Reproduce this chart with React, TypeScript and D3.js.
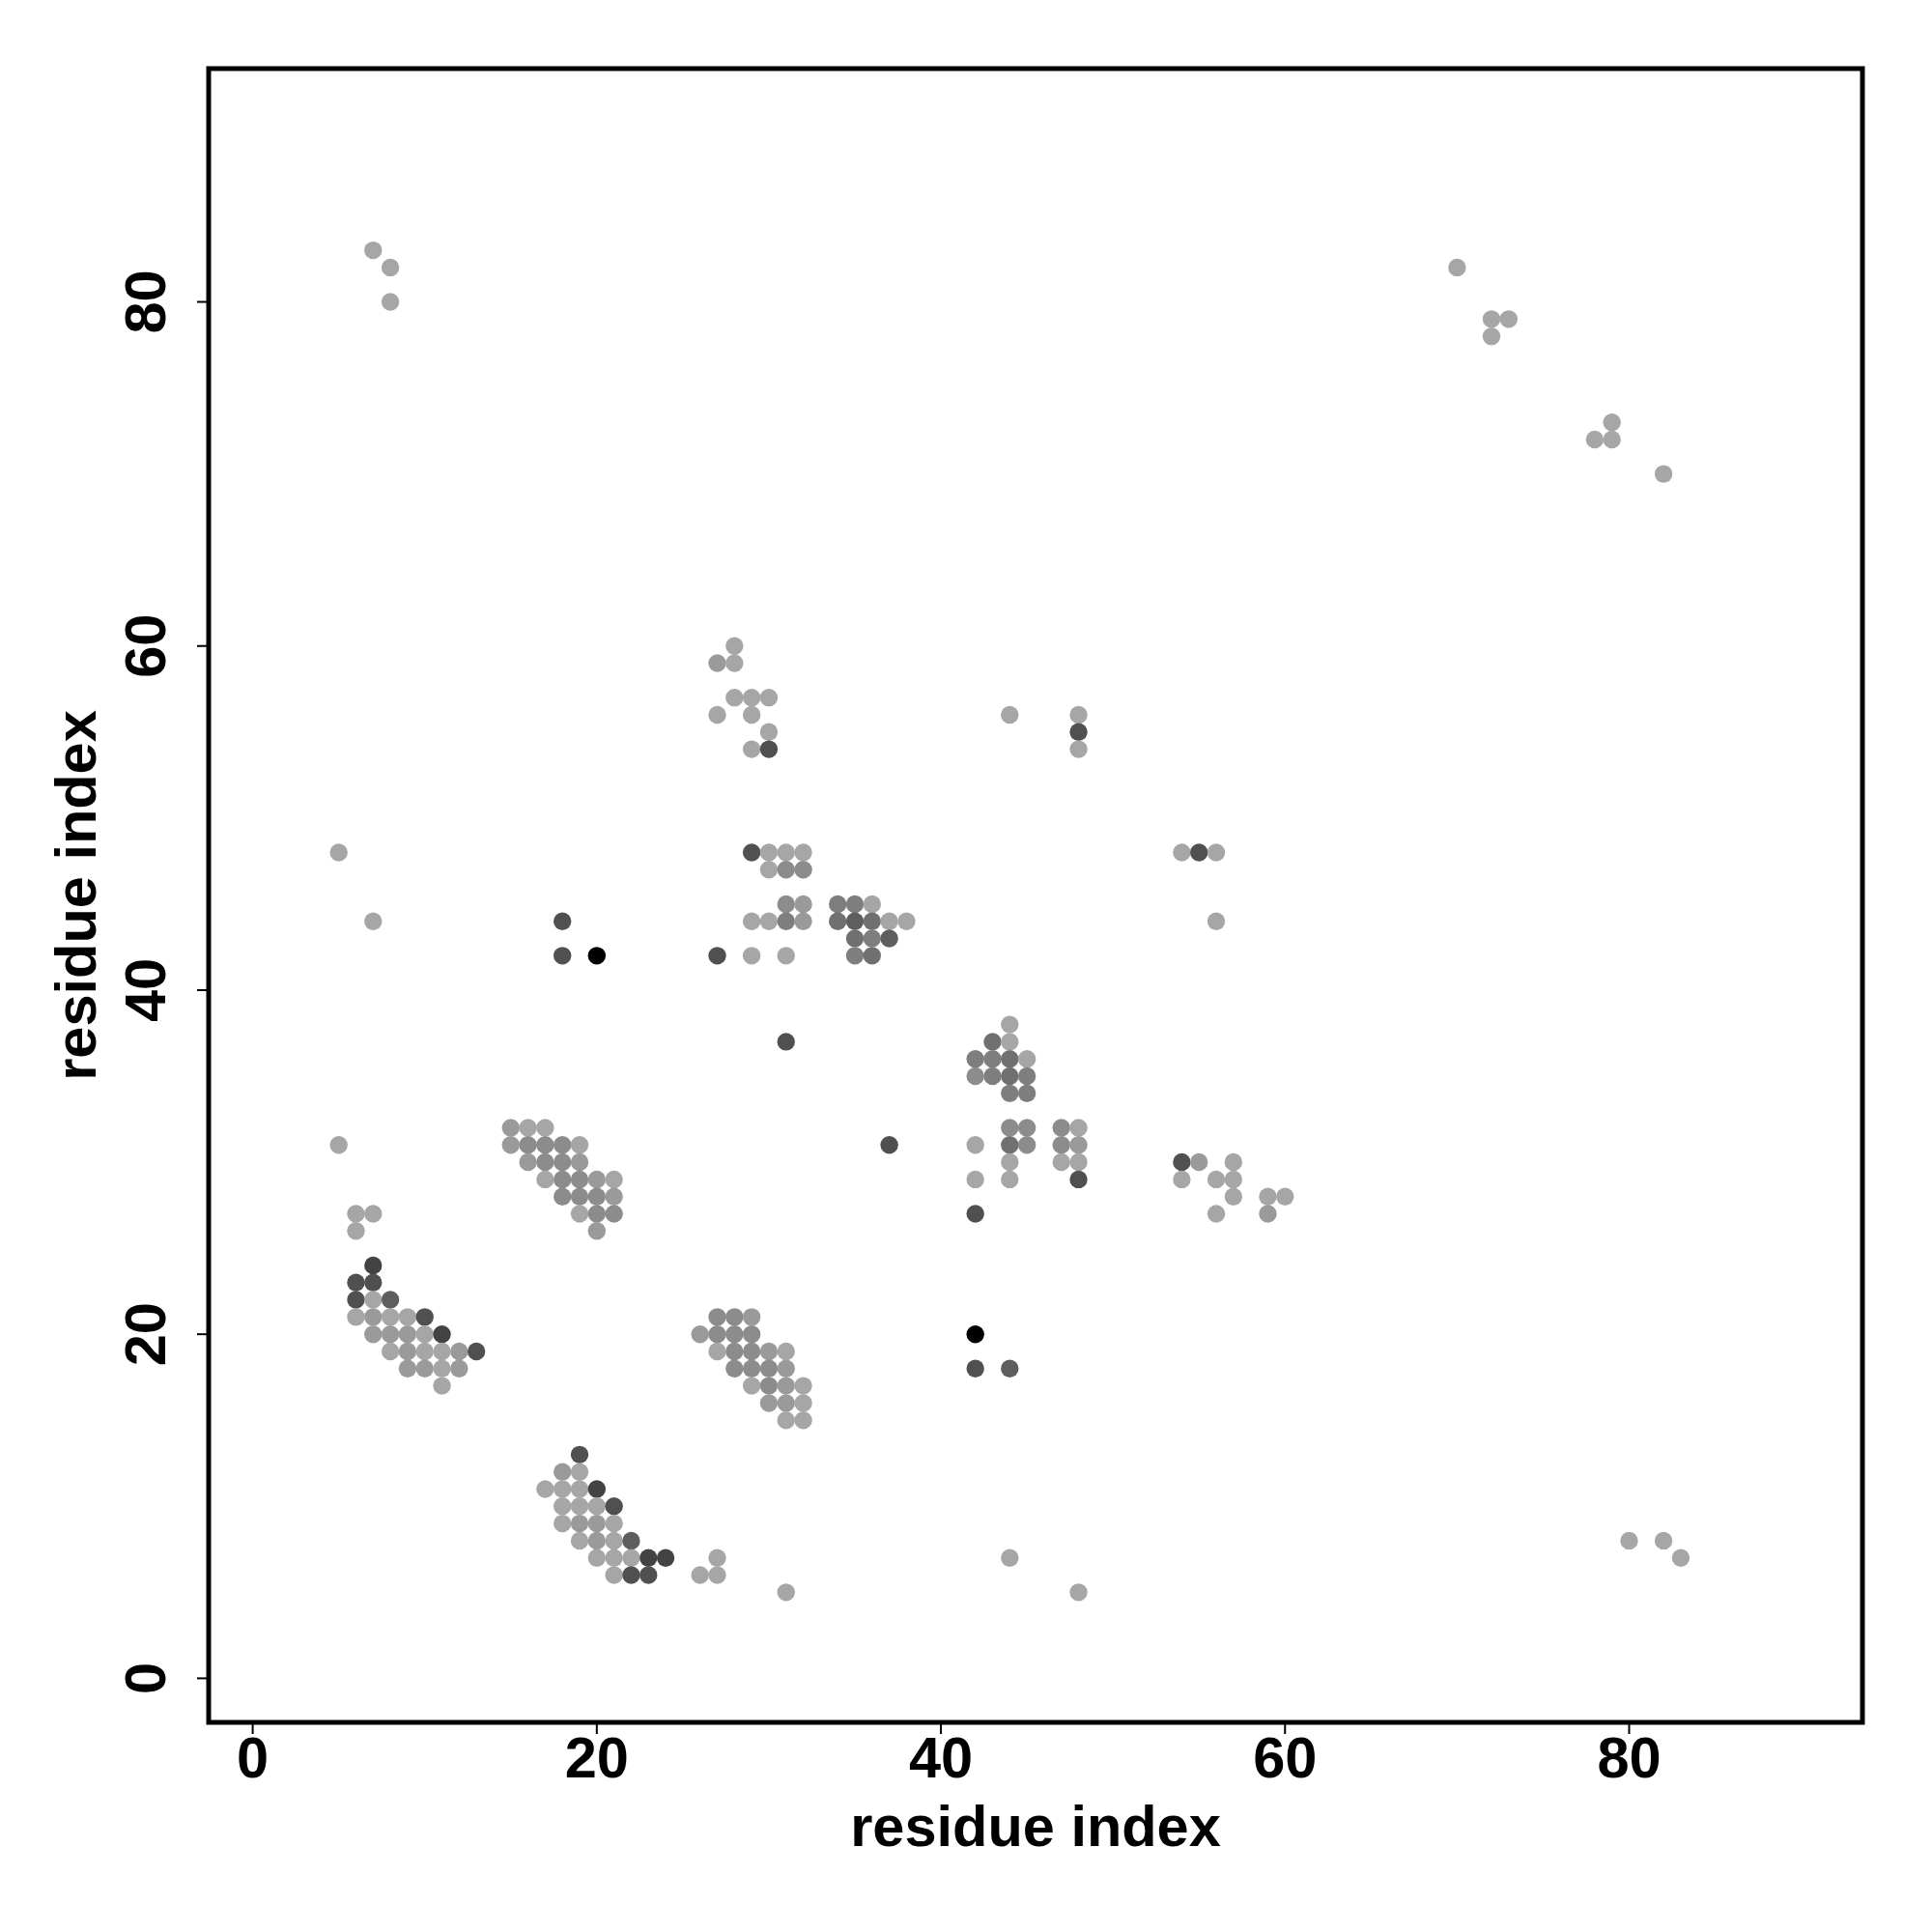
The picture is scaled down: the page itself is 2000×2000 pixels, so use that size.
import React from "react";
import * as d3 from "d3";

// [residue i, residue j, strength level 0..8]
const clusterA: number[][] = [
  [6, 27, 0], [7, 27, 0], [6, 26, 0],
  [7, 24, 7],
  [6, 23, 6], [7, 23, 6],
  [6, 22, 6], [7, 22, 0], [8, 22, 5],
  [6, 21, 0], [7, 21, 1], [8, 21, 0], [9, 21, 0], [10, 21, 6],
  [7, 20, 1], [8, 20, 1], [9, 20, 1], [10, 20, 0], [11, 20, 7],
  [8, 19, 0], [9, 19, 1], [10, 19, 0], [11, 19, 0], [12, 19, 1], [13, 19, 6],
  [9, 18, 1], [10, 18, 1], [11, 18, 0], [12, 18, 1],
  [11, 17, 0],
];

const clusterB: number[][] = [
  [19, 13, 6],
  [18, 12, 1], [19, 12, 0],
  [17, 11, 0], [18, 11, 0], [19, 11, 0], [20, 11, 7],
  [18, 10, 0], [19, 10, 0], [20, 10, 0], [21, 10, 6],
  [18, 9, 0], [19, 9, 1], [20, 9, 1], [21, 9, 0],
  [19, 8, 0], [20, 8, 1], [21, 8, 0], [22, 8, 5],
  [20, 7, 0], [21, 7, 0], [22, 7, 0], [23, 7, 7], [24, 7, 7],
  [21, 6, 0], [22, 6, 6], [23, 6, 6],
  [26, 6, 0], [27, 6, 0], [27, 7, 0],
  [31, 5, 0],
];

const clusterC: number[][] = [
  [15, 32, 1], [16, 32, 0], [17, 32, 0],
  [15, 31, 1], [16, 31, 2], [17, 31, 2], [18, 31, 2], [19, 31, 0],
  [16, 30, 1], [17, 30, 2], [18, 30, 2], [19, 30, 1],
  [17, 29, 0], [18, 29, 2], [19, 29, 2], [20, 29, 1], [21, 29, 0],
  [18, 28, 2], [19, 28, 2], [20, 28, 2], [21, 28, 1],
  [19, 27, 0], [20, 27, 2], [21, 27, 2],
  [20, 26, 1],
];

const clusterD: number[][] = [
  [27, 21, 2], [28, 21, 2], [29, 21, 1],
  [26, 20, 1], [27, 20, 2], [28, 20, 2], [29, 20, 2],
  [27, 19, 0], [28, 19, 2], [29, 19, 2], [30, 19, 1], [31, 19, 0],
  [28, 18, 2], [29, 18, 2], [30, 18, 2], [31, 18, 1],
  [29, 17, 0], [30, 17, 2], [31, 17, 1], [32, 17, 0],
  [30, 16, 1], [31, 16, 1], [32, 16, 0],
  [31, 15, 0], [32, 15, 0],
  [42, 20, 8], [42, 18, 6], [44, 18, 5],
  [44, 7, 0], [48, 5, 0],
];

const clusterE: number[][] = [
  [44, 38, 0],
  [43, 37, 4], [44, 37, 0],
  [42, 36, 3], [43, 36, 3], [44, 36, 4], [45, 36, 0],
  [42, 35, 2], [43, 35, 3], [44, 35, 4], [45, 35, 3],
  [44, 34, 3], [45, 34, 3],
  [44, 32, 2], [45, 32, 2], [47, 32, 2], [48, 32, 0],
  [37, 31, 6], [42, 31, 0], [44, 31, 4], [45, 31, 2], [47, 31, 2], [48, 31, 1],
  [44, 30, 0], [47, 30, 0], [48, 30, 0],
  [42, 29, 0], [44, 29, 0], [48, 29, 6],
  [42, 27, 6],
];

const clusterF: number[][] = [
  [54, 30, 6], [55, 30, 1], [57, 30, 0],
  [54, 29, 0], [56, 29, 0], [57, 29, 0],
  [57, 28, 0], [59, 28, 0], [60, 28, 0],
  [56, 27, 0], [59, 27, 1],
];

const clusterG: number[][] = [
  [29, 48, 6], [30, 48, 0], [31, 48, 0], [32, 48, 0],
  [30, 47, 0], [31, 47, 2], [32, 47, 2],
  [31, 45, 2], [32, 45, 1], [34, 45, 3], [35, 45, 3], [36, 45, 0],
  [29, 44, 0], [30, 44, 0], [31, 44, 3], [32, 44, 1], [34, 44, 4], [35, 44, 5], [36, 44, 4], [37, 44, 0], [38, 44, 0],
  [35, 43, 4], [36, 43, 3], [37, 43, 5],
  [27, 42, 6], [29, 42, 0], [31, 42, 0], [35, 42, 3], [36, 42, 4],
  [31, 37, 6],
  [18, 44, 6], [18, 42, 6], [20, 42, 8],
  [5, 48, 0], [7, 44, 0], [5, 31, 0],
];

const clusterH: number[][] = [
  [28, 60, 0],
  [27, 59, 1], [28, 59, 0],
  [28, 57, 0], [29, 57, 0], [30, 57, 0],
  [27, 56, 0], [29, 56, 0],
  [30, 55, 0],
  [29, 54, 0], [30, 54, 6],
  [44, 56, 0], [48, 56, 0], [48, 55, 6], [48, 54, 0],
  [54, 48, 0], [55, 48, 6], [56, 48, 0], [56, 44, 0],
];

const clusterFar: number[][] = [
  [7, 83, 0], [8, 82, 0], [8, 80, 0],
  [70, 82, 0], [72, 79, 0], [73, 79, 0], [72, 78, 0],
  [79, 73, 0], [78, 72, 0], [79, 72, 0], [82, 70, 0],
  [80, 8, 0], [82, 8, 0], [83, 7, 0],
];

const ticks = [0, 20, 40, 60, 80];
const axisLimits = [1, 90];
const xTitle = "residue index";
const yTitle = "residue index";

const greys = ["#a6a6a6", "#9a9a9a", "#8c8c8c", "#7e7e7e", "#707070", "#5e5e5e", "#505050", "#434343", "#000000"];

export default function App() {
  const W = 2000, H = 2000;
  const left = 216, right = 1928, top = 71, bottom = 1783;
  const span = axisLimits[1] - axisLimits[0];
  const dom = [axisLimits[0] - 0.04 * span, axisLimits[1] + 0.04 * span];
  const x = d3.scaleLinear().domain(dom).range([left, right]);
  const y = d3.scaleLinear().domain(dom).range([bottom, top]);
  const all = [...clusterA, ...clusterB, ...clusterC, ...clusterD, ...clusterE, ...clusterF, ...clusterG, ...clusterH, ...clusterFar];
  const font = "'Liberation Sans', Arial, Helvetica, sans-serif";
  const fs = 59.5;
  return (
    <svg width={W} height={H} style={{ position: "absolute", left: 0, top: 0, background: "#fff" }}>
      <rect x={0} y={0} width={W} height={H} fill="#fff" />
      {all.map((p, k) => (
        <circle key={k} cx={x(p[0])} cy={y(p[1])} r={9.2} fill={greys[p[2]]} />
      ))}
      <rect x={left} y={top} width={right - left} height={bottom - top} fill="none" stroke="#000" strokeWidth={5} />
      {ticks.map((t) => (
        <g key={"x" + t}>
          <line x1={x(t)} x2={x(t)} y1={bottom} y2={bottom + 12} stroke="#000" strokeWidth={2} />
          <text x={x(t)} y={1840} textAnchor="middle" fontFamily={font} fontWeight="bold" fontSize={fs}>{t}</text>
        </g>
      ))}
      {ticks.map((t) => (
        <g key={"y" + t}>
          <line x1={left} x2={left - 12} y1={y(t)} y2={y(t)} stroke="#000" strokeWidth={2} />
          <text transform={`translate(171,${y(t)}) rotate(-90)`} textAnchor="middle" fontFamily={font} fontWeight="bold" fontSize={fs}>{t}</text>
        </g>
      ))}
      <text x={(left + right) / 2} y={1911} textAnchor="middle" fontFamily={font} fontWeight="bold" fontSize={fs}>{xTitle}</text>
      <text transform={`translate(99,${(top + bottom) / 2}) rotate(-90)`} textAnchor="middle" fontFamily={font} fontWeight="bold" fontSize={fs}>{yTitle}</text>
    </svg>
  );
}
